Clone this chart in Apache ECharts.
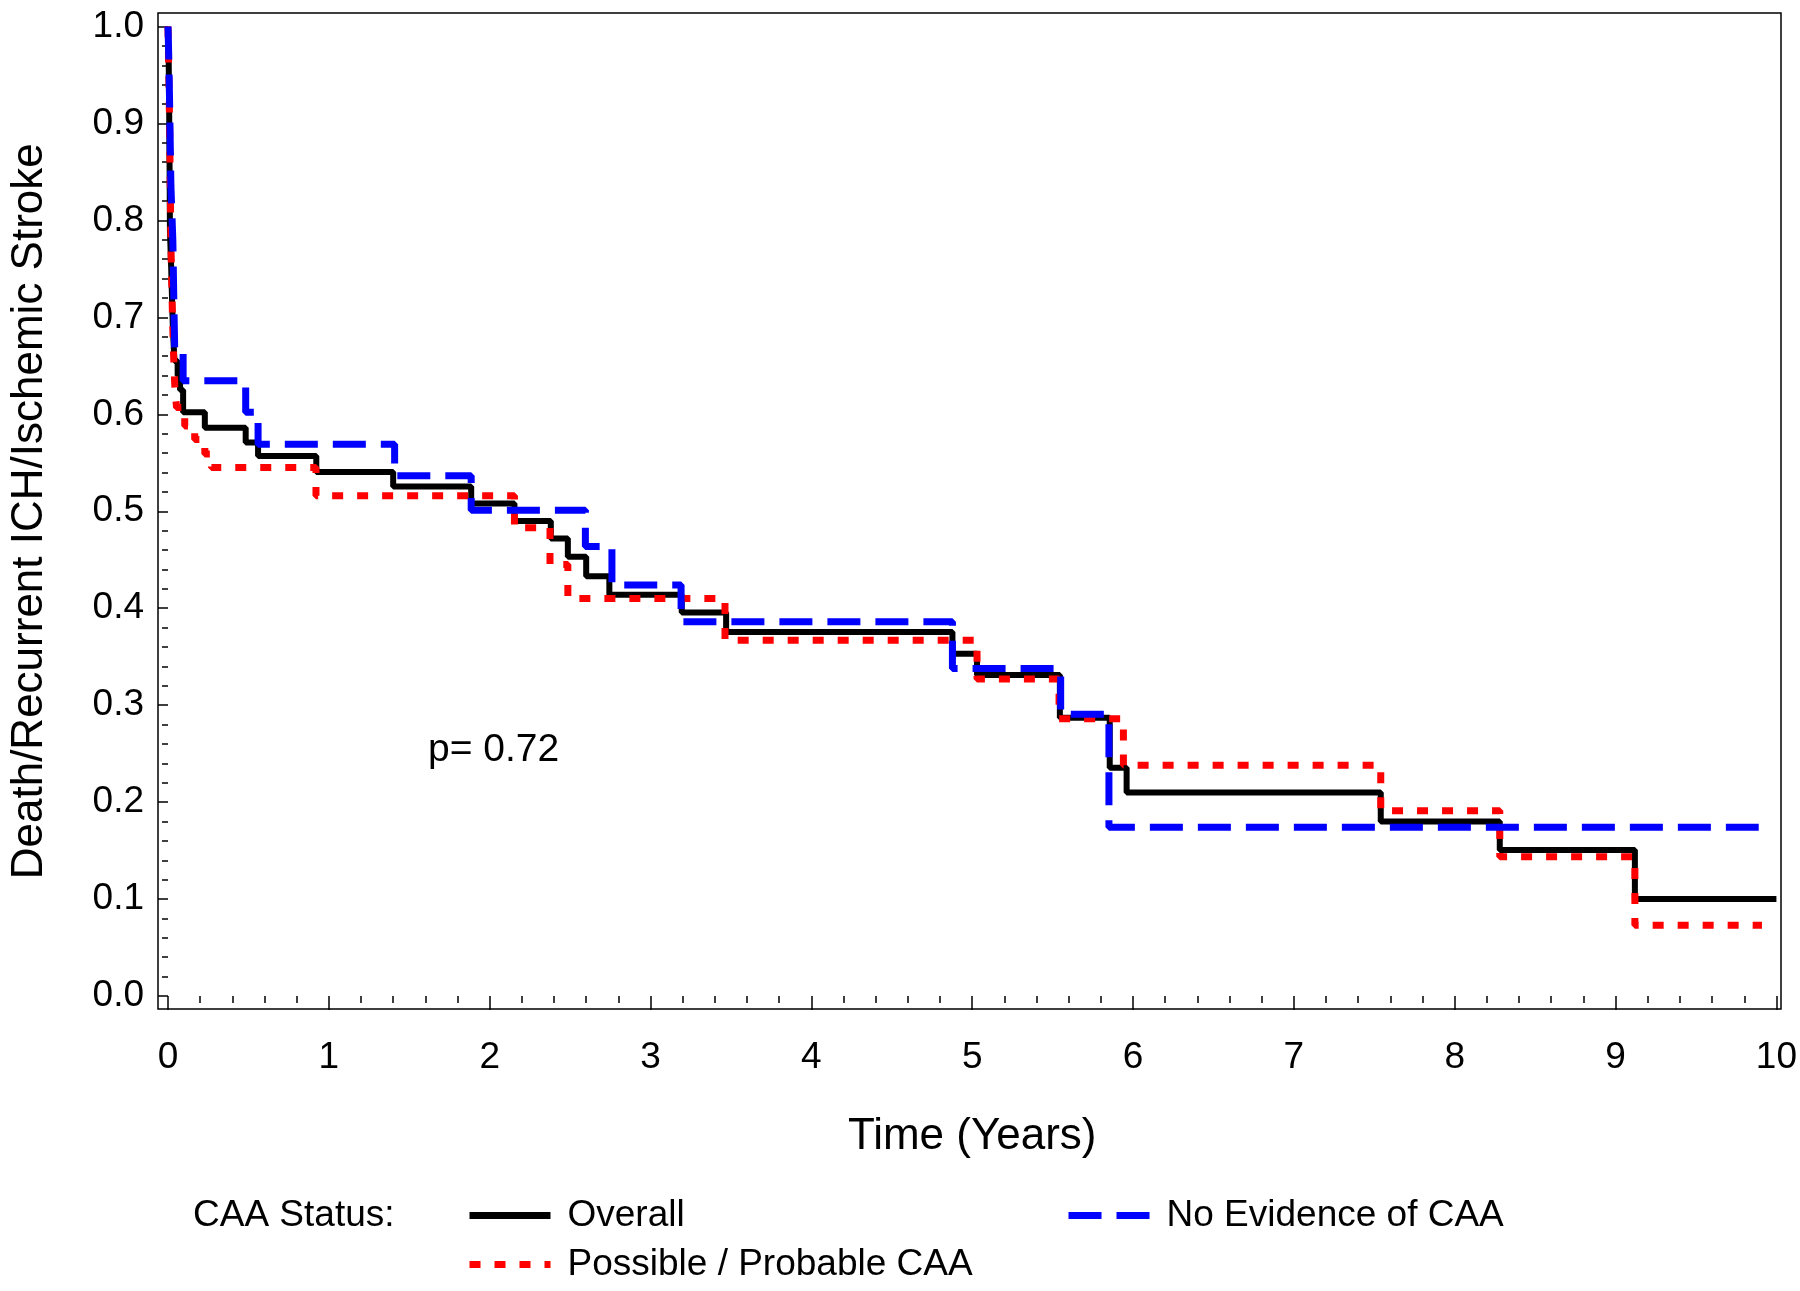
<!DOCTYPE html>
<html>
<head>
<meta charset="utf-8">
<script src="https://cdn.jsdelivr.net/npm/echarts@6/dist/echarts.min.js"></script>
<style>
html,body{margin:0;padding:0;background:#fff;}
#c{width:1800px;height:1291px;}
</style>
</head>
<body>
<div id="c"></div>
<script>
// ---- Data ----
const overallTime = [0, 0.004, 0.007, 0.010, 0.012, 0.020, 0.030, 0.040, 0.060, 0.075, 0.094, 0.229, 0.483, 0.560, 0.922, 1.400, 1.885, 2.154, 2.380, 2.486, 2.600, 2.744, 3.194, 3.470, 4.877, 5.030, 5.545, 5.855, 5.960, 7.540, 8.280, 9.120, 10.00];
const overallSurv = [1.0, 0.97, 0.92, 0.85, 0.79, 0.75, 0.69, 0.655, 0.640, 0.625, 0.602, 0.586, 0.571, 0.557, 0.5405, 0.5255, 0.508, 0.490, 0.472, 0.453, 0.433, 0.414, 0.3955, 0.3755, 0.353, 0.331, 0.287, 0.2355, 0.210, 0.180, 0.1505, 0.100, 0.100];

const possibleTime = [0, 0.005, 0.010, 0.015, 0.020, 0.028, 0.035, 0.042, 0.053, 0.104, 0.166, 0.229, 0.270, 0.920, 2.154, 2.375, 2.486, 3.463, 5.030, 5.540, 5.940, 7.540, 8.280, 9.120, 9.910];
const possibleSurv = [1.0, 0.95, 0.90, 0.82, 0.76, 0.70, 0.66, 0.63, 0.607, 0.588, 0.574, 0.559, 0.545, 0.516, 0.483, 0.445, 0.410, 0.367, 0.327, 0.286, 0.238, 0.191, 0.1436, 0.073, 0.073];

const noEvidenceTime = [0, 0.006, 0.012, 0.018, 0.030, 0.036, 0.042, 0.094, 0.483, 0.560, 1.409, 1.885, 2.595, 2.760, 3.190, 4.877, 5.550, 5.850, 9.890];
const noEvidenceSurv = [1.0, 0.96, 0.90, 0.836, 0.78, 0.72, 0.664, 0.6345, 0.602, 0.569, 0.5365, 0.501, 0.4636, 0.424, 0.386, 0.3377, 0.2905, 0.174, 0.174];

const seriesNames = ['Overall', 'Possible / Probable CAA', 'No Evidence of CAA'];
const legendTitle = 'CAA Status:';
const pValueText = 'p= 0.72';
const xTitle = 'Time (Years)';
const yTitle = 'Death/Recurrent ICH/Ischemic Stroke';

// ---- Chart ----
const FONT = "'Liberation Sans', Arial, Helvetica, sans-serif";
const pair = (ts, vs) => ts.map((t, i) => [t, vs[i]]);

const chart = echarts.init(document.getElementById('c'), null, {renderer: 'canvas'});

const tickStyle = {color: '#000', width: 1.5};

const legendBase = {
  orient: 'horizontal',
  padding: 0,
  itemWidth: 81,
  itemHeight: 20,
  selectedMode: false,
  itemStyle: {opacity: 0},
  lineStyle: {width: 7},
  textStyle: {fontSize: 37, fontFamily: FONT, color: '#000', padding: [0, 0, 0, 12]}
};

const option = {
  animation: false,
  backgroundColor: '#fff',
  grid: [
    {left: 158, right: 19, top: 13, bottom: 282, show: true, borderColor: '#000', borderWidth: 1.5, backgroundColor: 'rgba(0,0,0,0)'},
    {left: 166.3, right: 22.6, top: 26.5, bottom: 295}
  ],
  xAxis: [
    {gridIndex: 0, type: 'value', min: 0, max: 1, show: false},
    {
      gridIndex: 1, type: 'value', min: 0, max: 10, interval: 1,
      position: 'bottom', offset: 13,
      axisLine: {show: false},
      axisTick: {show: true, length: 14, lineStyle: tickStyle},
      minorTick: {show: true, splitNumber: 5, length: 7, lineStyle: tickStyle},
      splitLine: {show: false},
      axisLabel: {color: '#000', fontSize: 37, fontFamily: FONT, margin: 30},
      name: xTitle, nameLocation: 'middle', nameGap: 106,
      nameTextStyle: {color: '#000', fontSize: 44, fontFamily: FONT}
    }
  ],
  yAxis: [
    {gridIndex: 0, type: 'value', min: 0, max: 1, show: false},
    {
      gridIndex: 1, type: 'value', min: 0, max: 1, interval: 0.1,
      position: 'left', offset: 8,
      axisLine: {show: false},
      axisTick: {show: true, length: 10, lineStyle: tickStyle},
      minorTick: {show: true, splitNumber: 5, length: 6, lineStyle: tickStyle},
      splitLine: {show: false},
      axisLabel: {color: '#000', fontSize: 37, fontFamily: FONT, margin: 16, formatter: v => v.toFixed(1)},
      name: yTitle, nameLocation: 'middle', nameGap: 108, nameRotate: 90,
      nameTextStyle: {color: '#000', fontSize: 44, fontFamily: FONT}
    }
  ],
  legend: [
    Object.assign({}, legendBase, {data: [seriesNames[0]], left: 466, top: 1197}),
    Object.assign({}, legendBase, {data: [seriesNames[2]], left: 1065, top: 1197}),
    Object.assign({}, legendBase, {data: [seriesNames[1]], left: 466, top: 1246})
  ],
  graphic: [
    {type: 'text', left: 193, top: 1197, style: {text: legendTitle, font: '37px ' + FONT, fill: '#000'}},
    {type: 'text', left: 428, top: 731, style: {text: pValueText, font: '39px ' + FONT, fill: '#000'}}
  ],
  series: [
    {
      name: seriesNames[0], type: 'line', xAxisIndex: 1, yAxisIndex: 1, step: 'end',
      symbol: 'none', clip: false, data: pair(overallTime, overallSurv),
      lineStyle: {color: '#000000', width: 6, type: 'solid'},
      itemStyle: {color: '#000000'}
    },
    {
      name: seriesNames[1], type: 'line', xAxisIndex: 1, yAxisIndex: 1, step: 'end',
      symbol: 'none', clip: false, data: pair(possibleTime, possibleSurv),
      lineStyle: {color: '#ff0000', width: 7, type: [11, 14]},
      itemStyle: {color: '#ff0000'}
    },
    {
      name: seriesNames[2], type: 'line', xAxisIndex: 1, yAxisIndex: 1, step: 'end',
      symbol: 'none', clip: false, data: pair(noEvidenceTime, noEvidenceSurv),
      lineStyle: {color: '#0000ff', width: 7, type: [33, 15]},
      itemStyle: {color: '#0000ff'}
    }
  ]
};
chart.setOption(option);
</script>
</body>
</html>
